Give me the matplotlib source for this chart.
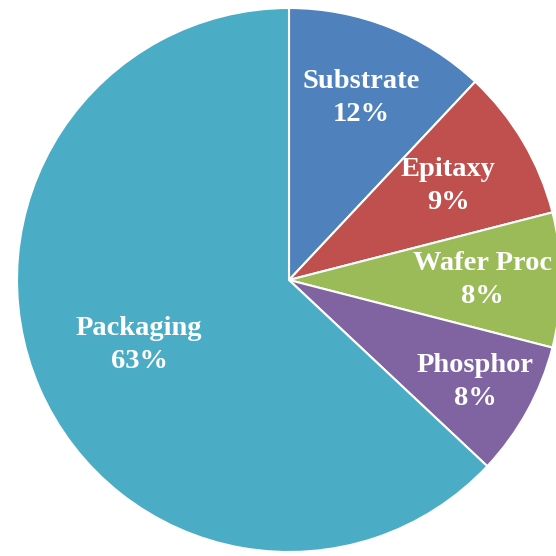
import numpy as np
import matplotlib
matplotlib.use("Agg")
import matplotlib.pyplot as plt

# cost breakdown
labels = ["Substrate", "Epitaxy", "Wafer Proc", "Phosphor", "Packaging"]
shares = [12, 9, 8, 8, 63]
colors = ["#4F81BD", "#C0504D", "#9BBB59", "#8064A2", "#4BACC6"]
label_dist = [0.72, 0.68, 0.71, 0.78, 0.60]

fig = plt.figure(figsize=(5.56, 5.56), dpi=100)
ax = fig.add_axes([0, 0, 1, 1])

R = 272.0
cx, cy = 289.0, 280.0  # centre in pixels from top-left
wedges, _ = ax.pie(shares, colors=colors, startangle=90, counterclock=False,
                   radius=1, center=(0, 0),
                   wedgeprops=dict(edgecolor="white", linewidth=1.5))

for w, name, pct, d in zip(wedges, labels, shares, label_dist):
    mid = np.deg2rad((w.theta1 + w.theta2) / 2)
    ax.text(d * np.cos(mid), d * np.sin(mid), f"{name}\n{pct}%",
            ha="center", va="center", multialignment="center",
            color="white", fontsize=20.5, fontweight="bold",
            family="Liberation Serif", linespacing=1.4)

ax.set_xlim(-cx / R, (556 - cx) / R)
ax.set_ylim(-(556 - cy) / R, cy / R)
ax.set_aspect("equal")
ax.axis("off")

fig.savefig("out.png", dpi=100)
